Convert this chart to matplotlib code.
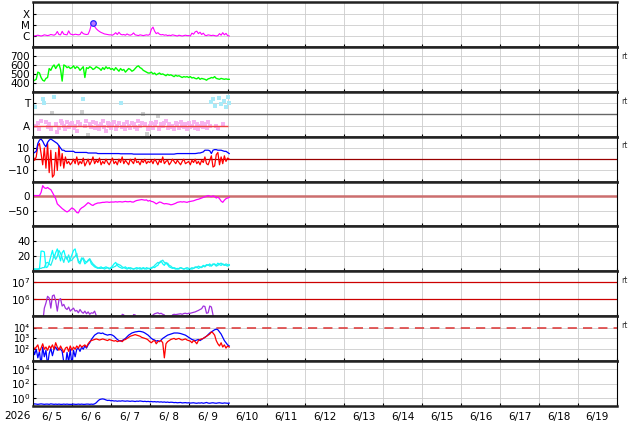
import numpy as np
import pandas as pd
import matplotlib
matplotlib.use('Agg')
import matplotlib.pyplot as plt
import matplotlib.dates as mdates
from matplotlib.ticker import FuncFormatter, NullLocator

# hourly samples from 2026-06-05 00:00
times = pd.date_range('2026-06-05', periods=122, freq='h')

# X-ray flux (x1e-6 W/m2)
xray = np.array([
    1.2, 1.1, 1.2, 1.3, 1.2, 1.1, 1.2, 1.4, 1.3, 1.2, 1.3, 1.5, 1.4, 1.3, 1.6, 2.8, 1.5, 1.4, 2.9, 1.6, 1.5, 1.4, 3.2, 1.7,
    1.5, 1.4, 1.6, 1.5, 1.4, 1.5, 2.6, 1.8, 1.6, 1.5, 1.6, 3.5, 12, 16, 8.0, 5.0, 3.6, 2.8, 2.3, 2.0, 1.7, 1.6, 1.5, 1.4,
    1.4, 1.3, 1.6, 2.2, 1.5, 2.4, 1.6, 1.4, 1.5, 1.3, 1.7, 1.4, 1.3, 1.5, 2.1, 1.4, 1.3, 1.2, 1.4, 1.3, 1.2, 1.3, 1.4, 1.3,
    1.5, 4.5, 7.0, 3.0, 1.8, 2.2, 1.6, 1.4, 1.5, 1.3, 1.4, 1.2, 1.3, 1.2, 1.4, 1.3, 1.2, 1.1, 1.3, 1.2, 1.1, 1.2, 1.3, 1.2,
    1.2, 1.1, 2.0, 1.6, 2.6, 3.0, 1.8, 2.4, 1.5, 2.0, 1.3, 1.2, 1.4, 1.3, 1.2, 1.3, 1.2, 1.1, 1.2, 1.8, 1.3, 2.2, 1.4, 1.9, 1.2, 1.1]) * 1e-6
flare_idx = 37

# solar wind speed (km/s)
speed = [
    420, 430, 440, 520, 510, 460, 430, 420, 450, 460, 560, 540, 580, 600, 560, 590, 610, 550, 420, 600, 590, 570, 580, 560,
    570, 590, 560, 580, 570, 540, 560, 580, 460, 570, 560, 580, 570, 550, 560, 580, 570, 560, 540, 570, 550, 580, 560, 570,
    550, 560, 540, 570, 550, 530, 560, 540, 550, 520, 540, 560, 550, 530, 540, 560, 580, 590, 570, 560, 540, 530, 520, 510,
    510, 520, 500, 510, 490, 500, 510, 495, 500, 490, 480, 495, 485, 490, 480, 470, 485, 475, 480, 470, 460, 470, 465, 470,
    460, 470, 455, 460, 450, 445, 460, 440, 450, 445, 440, 430, 445, 450, 460, 455, 470, 450, 445, 440, 450, 445, 440, 445, 440, 440]

# IMF phi angle (deg)
phi = np.array([
    250, 240, 90, 110, 60, 130, 300, 270, 120, 80, 100, 60, 190, 320, 100, 40, 70, 130, 110, 90, 60, 120, 80, 100,
    110, 70, 90, 50, 120, 100, 200, 300, 90, 130, 15, 100, 80, 120, 70, 110, 90, 60, 100, 130, 80, 50, 110, 90,
    70, 100, 120, 60, 90, 110, 270, 80, 100, 60, 120, 90, 70, 110, 100, 80, 60, 130, 90, 110, 180, 100, 20, 60,
    90, 110, 70, 100, 120, 170, 60, 100, 90, 110, 130, 70, 100, 80, 90, 60, 110, 100, 70, 120, 90, 80, 100, 60,
    110, 80, 90, 120, 70, 100, 60, 90, 110, 80, 100, 70, 120, 90, 280, 300, 250, 90, 70, 310, 260, 100, 290, 240, 320, 270])

# IMF Bt and Bz (nT)
bt = [
    5, 6, 7, 14, 17, 18, 16, 13, 11, 15, 17, 18, 17, 16, 15, 14, 12, 10, 8, 8, 7, 7, 7, 7,
    7, 7, 6, 6, 6, 6, 6, 6, 6, 6, 5.5, 5.5, 5.5, 5.5, 5.5, 5.5, 5, 5, 5, 5, 5, 5, 5, 5,
    5, 5, 5, 5, 5, 5, 4.8, 4.8, 4.8, 4.8, 4.8, 4.8, 4.8, 4.8, 4.5, 4.5, 4.5, 4.5, 4.5, 4.5, 4.5, 4.5, 4.5, 4.5,
    4.5, 4.5, 4.5, 4.5, 4.5, 4.5, 4.5, 4.5, 4.5, 4.5, 4.5, 4.5, 4.5, 4.5, 4.5, 4.5, 4.8, 5, 5, 5, 5, 5, 5, 5,
    5, 5, 5, 5, 5, 5.2, 5.5, 5.5, 6, 6.5, 8, 8, 8, 7.5, 5, 8, 8.5, 8.5, 8, 8, 8, 7.5, 7, 7, 6, 5]
bz = [
    3, -1, 2, 12, 14, 5, -5, 10, -8, 14, -12, 8, -16, -14, 6, -10, 12, -6, 5, -8, 2, -4, -2, -5,
    -3, 0, -4, 2, -5, -2, -4, 1, -6, -3, 0, -5, -2, 2, -4, -1, -3, 1, -5, -2, -4, 0, -3, -5,
    -2, 1, -4, -2, -5, 0, -3, 2, -4, -1, -3, -5, 0, -2, -4, 1, -3, -2, -5, -1, -3, 0, -4, -2,
    -3, -1, -4, 0, -2, -5, -1, -3, 2, -4, -2, -1, -5, -3, 0, -2, -4, -1, -3, -5, -2, 0, -4, -3,
    -2, -5, -1, -3, 0, -4, -2, -5, -1, -3, 2, -4, -5, -1, 3, -7, -6, 4, 6, -5, 2, -4, 3, -2, 1, 0]

# Dst (nT)
dst = [
    0, 0, 0, 0, 0, 10, 32, 25, 23, 26, 22, 19, 10, 0, -10, -27, -32, -37, -42, -46, -50, -53, -50, -45,
    -40, -43, -48, -55, -56, -45, -40, -37, -33, -28, -23, -26, -30, -32, -28, -26, -24, -24, -23, -22, -22, -21, -21, -22,
    -21, -21, -21, -20, -21, -20, -20, -21, -20, -19, -20, -20, -19, -21, -21, -18, -16, -15, -14, -13, -14, -15, -14, -18,
    -16, -19, -20, -23, -27, -24, -21, -22, -25, -27, -26, -27, -28, -30, -29, -27, -25, -22, -21, -20, -21, -20, -21, -22,
    -20, -19, -18, -17, -15, -13, -12, -10, -8, -6, -4, -2, 0, -2, -4, -1, -3, -8, -5, -10, -18, -22, -15, -10, -8, -6]

# geomagnetic index, two stations
idx_a = [
    3, 3, 3, 3, 3, 27, 27, 26, 5, 6, 12, 20, 28, 18, 25, 30, 22, 14, 25, 28, 20, 18, 12, 16,
    22, 28, 30, 20, 14, 12, 18, 16, 10, 12, 14, 16, 10, 8, 6, 5, 4, 5, 6, 4, 5, 6, 5, 4,
    5, 7, 10, 12, 8, 6, 5, 4, 5, 6, 4, 5, 3, 4, 3, 4, 5, 4, 3, 4, 5, 4, 3, 4,
    4, 5, 6, 5, 7, 8, 12, 14, 10, 8, 12, 9, 6, 5, 4, 5, 4, 3, 4, 5, 4, 3, 4, 3,
    3, 4, 3, 4, 5, 6, 4, 5, 6, 8, 7, 9, 8, 10, 7, 9, 10, 8, 11, 9, 8, 10, 9, 8, 7, 9]
idx_b = [
    3, 3, 3, 3, 4, 4, 5, 5, 11, 12, 10, 8, 14, 22, 16, 20, 28, 24, 18, 12, 20, 16, 22, 14,
    15, 18, 20, 24, 12, 10, 16, 18, 14, 12, 15, 17, 13, 10, 8, 6, 5, 4, 4, 5, 3, 4, 5, 3,
    4, 5, 6, 7, 10, 9, 8, 6, 5, 4, 3, 4, 5, 4, 3, 4, 3, 4, 5, 3, 4, 3, 5, 4,
    3, 4, 5, 8, 10, 12, 11, 13, 15, 12, 10, 11, 8, 7, 5, 4, 3, 4, 3, 5, 4, 3, 4, 5,
    4, 3, 5, 4, 6, 5, 7, 6, 5, 7, 6, 8, 9, 7, 8, 10, 9, 7, 8, 10, 11, 9, 8, 10, 9, 8]

# proton flux
proton = [
    3e4, 3e4, 3e4, 3e4, 3e4, 3e4, 4e4, 3e5, 6e5, 1.5e6, 1.2e6, 3e5, 1.6e6, 1.8e6, 8e5, 2e5, 9e5, 1.1e6, 4e5, 5e5, 3e5, 2.5e5, 3.5e5, 2e5,
    2.5e5, 3e5, 2e5, 2.2e5, 1.6e5, 2.5e5, 1.8e5, 1.5e5, 2e5, 1.4e5, 1.8e5, 1.3e5, 1.6e5, 1.5e5, 2e5, 1.1e5, 6e4, 3e4, 3e4, 3e4, 3e4, 3e4, 3e4, 3e4,
    3e4, 3e4, 3e4, 3e4, 3e4, 3e4, 3e4, 1.3e5, 1.2e5, 4e4, 3e4, 3e4, 3e4, 3e4, 1.25e5, 1.2e5, 3e4, 3e4, 3e4, 3e4, 3e4, 3e4, 3e4, 3e4,
    3e4, 3e4, 1.2e5, 1.4e5, 1.5e5, 1.6e5, 1.4e5, 1.5e5, 1.3e5, 1.2e5, 3e4, 3e4, 3e4, 3e4, 1.2e5, 1.3e5, 1.25e5, 1.3e5, 1.35e5, 1.4e5, 1.3e5, 1.45e5, 1.5e5, 1.4e5,
    1.5e5, 1.5e5, 1.6e5, 1.7e5, 1.8e5, 2e5, 2.2e5, 2.5e5, 2.8e5, 4e5, 3.8e5, 1.5e5, 1.6e5, 4e5, 3.5e5, 1.2e5,
    3e4, 3e4, 3e4, 3e4, 3e4, 3e4, 3e4, 3e4, 3e4, 3e4]

# electron flux, log10
elec_blue_log = [
    2.1, 1.5, 2.0, 1.2, 1.8, 0.5, 2.2, 1.3, 1.9, 0.5, 1.6, 2.1, 1.4, 2.0, 2.2, 1.9, 2.1, 2.0, 1.8, 0.8, 0.5, 1.7, 0.8, 2.0,
    0.5, 1.9, 1.3, 2.0, 2.1, 1.8, 2.2, 2.0, 2.3, 2.1, 2.4, 2.6, 2.9, 3.1, 3.3, 3.4, 3.5, 3.5, 3.45, 3.5, 3.4, 3.35, 3.3, 3.35,
    3.35, 3.3, 3.2, 3.05, 2.9, 2.8, 2.75, 2.8, 2.9, 3.0, 3.15, 3.3, 3.4, 3.5, 3.55, 3.6, 3.62, 3.65, 3.65, 3.62, 3.58, 3.5, 3.4, 3.3,
    3.15, 3.0, 2.9, 2.85, 2.75, 2.8, 2.7, 2.85, 3.0, 3.1, 3.2, 3.3, 3.35, 3.4, 3.45, 3.5, 3.5, 3.5, 3.48, 3.45, 3.4, 3.35, 3.3, 3.2,
    3.1, 3.0, 2.9, 2.85, 2.8, 2.85, 2.9, 2.8, 2.9, 3.0, 3.1, 3.2, 3.35, 3.5, 3.6, 3.7, 3.8, 3.85, 3.8, 3.6, 3.4, 3.1, 2.8, 2.6, 2.4, 2.3]
elec_red_log = [
    2.3, 2.0, 2.2, 2.4, 1.8, 2.1, 2.5, 2.0, 2.2, 1.9, 2.3, 2.1, 2.4, 2.0, 2.6, 2.2, 1.9, 2.3, 2.0, 1.7, 2.1, 2.2, 1.8, 2.3,
    1.9, 2.2, 2.0, 2.3, 2.1, 2.4, 2.2, 2.3, 2.4, 2.2, 2.5, 2.7, 2.8, 2.85, 2.9, 2.95, 2.9, 2.85, 2.9, 2.95, 2.9, 2.85, 2.8, 2.9,
    2.85, 2.8, 2.75, 2.8, 2.7, 2.75, 2.8, 2.7, 2.85, 2.9, 3.0, 3.1, 3.2, 3.25, 3.3, 3.35, 3.3, 3.25, 3.2, 3.1, 3.05, 3.0, 2.95, 2.85,
    2.7, 2.6, 2.75, 2.8, 2.5, 2.7, 2.75, 2.8, 2.6, 1.2, 2.5, 2.7, 2.8, 2.9, 2.95, 3.0, 2.9, 2.95, 3.0, 2.9, 2.85, 2.9, 2.95, 2.85,
    2.8, 2.75, 2.6, 2.8, 2.7, 2.5, 2.8, 2.9, 2.95, 3.0, 3.1, 3.2, 3.3, 3.4, 3.6, 3.5, 3.3, 2.8, 2.5, 2.3, 2.6, 2.2, 2.4, 2.1, 2.3, 2.2]

# neutron / particle count
count = [
    .13, .14, .13, .12, .13, .14, .13, .12, .13, .13, .12, .14, .13, .12, .13, .12, .13, .12, .12, .13, .12, .13, .12, .12,
    .12, .13, .12, .12, .13, .12, .13, .12, .12, .13, .13, .12, .13, .12, .14, .2, .35, .55, .65, .7, .62, .5, .42, .45,
    .38, .4, .35, .37, .33, .36, .34, .38, .35, .33, .36, .34, .32, .35, .33, .3, .34, .32, .36, .33, .3, .32, .29, .31,
    .28, .3, .27, .29, .26, .28, .25, .27, .24, .26, .23, .25, .22, .24, .23, .21, .22, .2, .21, .22, .19, .2, .21, .19,
    .2, .18, .19, .2, .18, .17, .19, .18, .2, .17, .19, .22, .18, .17, .19, .2, .18, .17, .19, .2, .18, .17, .19, .18, .17, .18]

plt.rcParams['font.size'] = 7.5
fig, axs = plt.subplots(9, 1, figsize=(6.34, 4.24), dpi=100, sharex=True)
fig.subplots_adjust(left=0.052, right=0.973, top=0.995, bottom=0.0425, hspace=0)

grid_c = '#cccccc'
for ax in axs:
    ax.set_xlim(pd.Timestamp('2026-06-05'), pd.Timestamp('2026-06-20'))
    ax.xaxis.set_major_locator(mdates.DayLocator())
    ax.grid(True, color=grid_c, lw=0.6)
    ax.set_axisbelow(True)
    for s in ('top', 'bottom'):
        ax.spines[s].set_linewidth(1.8)
        ax.spines[s].set_color('#222222')
    for s in ('left', 'right'):
        ax.spines[s].set_linewidth(0.8)
    ax.tick_params(axis='both', which='major', direction='in', length=2, pad=2)
    ax.yaxis.set_minor_locator(NullLocator())

# 1 X-ray
ax = axs[0]
ax.plot(times, xray, color='#ff00ff', lw=0.8)
ax.plot(times[flare_idx], xray[flare_idx], 'o', ms=4, mfc='#bb77ff', mec='#2222ff', mew=0.9)
ax.set_yscale('log')
ax.set_ylim(10**-6.95, 10**-2.9)
ax.set_yticks([1e-6, 1e-5, 1e-4])
ax.set_yticklabels(['C', 'M', 'X'])
ax.yaxis.set_minor_locator(NullLocator())

# 2 speed
ax = axs[1]
ax.plot(times, speed, color='#00ff00', lw=1.0)
ax.set_ylim(300, 800)
ax.set_yticks([400, 500, 600, 700])

# 3 phi
ax = axs[2]
pink = (phi >= 30) & (phi <= 150)
cyan = phi >= 210
gray = ~(pink | cyan)
ax.plot(times[gray], phi[gray], 's', ms=2.5, color='#cfcfcf', mew=0)
ax.plot(times[pink], phi[pink], 's', ms=3.2, color='#f7b3f0', mew=0)
ax.plot(times[cyan], phi[cyan], 's', ms=3.0, color='#a8eaf8', mew=0)
ax.axhline(180, color='#666666', lw=1)
ax.hlines(90, times[0], times[120], color='#ee4444', lw=1)
ax.set_ylim(0, 360)
ax.set_yticks([90, 270])
ax.set_yticklabels(['A', 'T'])

# 4 IMF
ax = axs[3]
ax.axhline(0, color='#990000', lw=0.9)
ax.plot(times, bz, color='#ff0000', lw=0.9)
ax.plot(times, bt, color='#0000ff', lw=0.9)
ax.set_ylim(-20, 20)
ax.set_yticks([-10, 0, 10])
ax.set_yticklabels(['\u221210', '0', '10'])

# 5 Dst
ax = axs[4]
ax.axhline(0, color='#cc6e6e', lw=1.8)
ax.plot(times, dst, color='#ff00ff', lw=0.9)
ax.set_ylim(-100, 45)
ax.set_yticks([-50, 0])
ax.set_yticklabels(['\u221250', '0'])

# 6 index
ax = axs[5]
ax.plot(times, idx_a, color='#00ffff', lw=0.9)
ax.plot(times, idx_b, color='#22eeee', lw=0.9)
ax.set_ylim(0, 60)
ax.set_yticks([20, 40])

# 7 protons
ax = axs[6]
ax.axhline(1e6, color='#cc0000', lw=0.9)
ax.axhline(1e7, color='#cc0000', lw=0.9)
ax.plot(times, proton, color='#a030dd', lw=0.9)
ax.set_yscale('log')
ax.set_ylim(1e5, 10**7.65)
ax.set_yticks([1e6, 1e7])
ax.yaxis.set_minor_locator(NullLocator())

# 8 electrons
ax = axs[7]
ax.axhline(1e4, color='#dd3333', lw=1.1, dashes=(6, 4))
ax.plot(times, 10 ** np.array(elec_blue_log), color='#0000ff', lw=0.9)
ax.plot(times, 10 ** np.array(elec_red_log), color='#ff0000', lw=0.9)
ax.set_yscale('log')
ax.set_ylim(10**0.9, 10**5.05)
ax.set_yticks([1e2, 1e3, 1e4])
ax.set_yticklabels(['10\u00b2', '10\u00b3', '10\u2074'])
ax.yaxis.set_minor_locator(NullLocator())
ax.tick_params(axis='y', labelsize=7, pad=2)

# 9 count
ax = axs[8]
ax.plot(times, count, color='#0000ff', lw=0.9)
ax.set_yscale('log')
ax.set_ylim(10**-1.15, 10**5.15)
ax.set_yticks([1e0, 1e2, 1e4])
ax.yaxis.set_minor_locator(NullLocator())

for i in (1, 2, 3, 6, 7):
    axs[i].text(1.008, 0.74, 'rt', transform=axs[i].transAxes, fontsize=5.5, color='#333333')

bottom = axs[8]
bottom.xaxis.set_major_formatter(FuncFormatter(lambda v, p: ''))
bottom.xaxis.set_minor_locator(mdates.HourLocator(byhour=12))
bottom.xaxis.set_minor_formatter(FuncFormatter(
    lambda v, p: '%d/%2d' % (mdates.num2date(v).month, mdates.num2date(v).day)))
bottom.tick_params(axis='x', which='minor', length=0, pad=4)
fig.text(0.006, 1 - 416 / 424, '2026', va='center', fontsize=7.5)

fig.savefig('out.png', dpi=100)
